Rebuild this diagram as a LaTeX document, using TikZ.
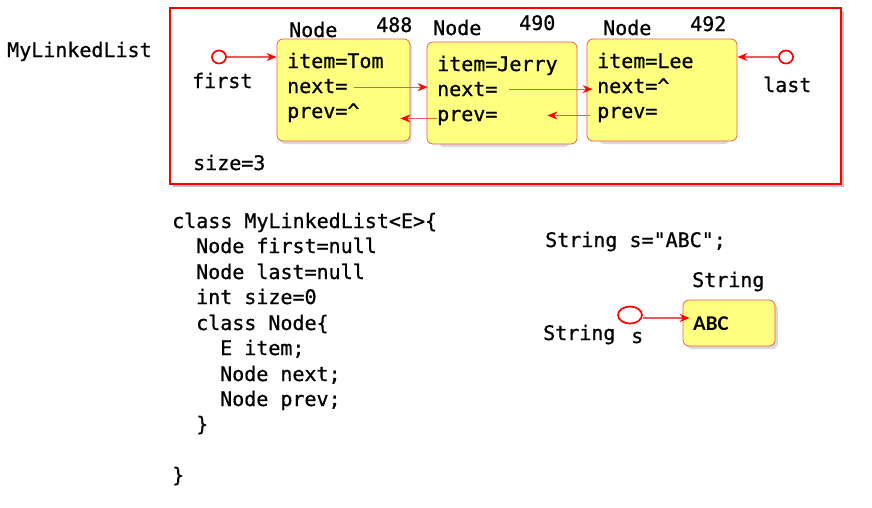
\documentclass[tikz,border=0pt]{standalone}
\usepackage{fontspec}
\newfontfamily\cons[RawFeature={embolden=0.8}]{DejaVu Sans Mono}
\newfontfamily\calib{Carlito}
\usetikzlibrary{arrows.meta,calc,shapes.geometric}
\definecolor{boxfill}{RGB}{255,255,128}
\definecolor{boxline}{RGB}{240,90,90}
\definecolor{ptrline}{RGB}{235,90,90}
\tikzset{
  mono/.style={font=\cons\fontsize{20}{24}\selectfont, inner sep=0pt, anchor=base west, text=black},
  objbox/.style={draw=boxline, line width=0.8pt, fill=boxfill, rounded corners=6pt, inner sep=0pt},
  ptr/.style={draw=ptrline, line width=1.1pt, -{Stealth[length=10pt,width=8pt,red]}},
  refcirc/.style={draw=red, line width=1.7pt, fill=white, ellipse, inner sep=0pt},
}
\begin{document}
\begin{tikzpicture}[x=1pt,y=-1pt]
\useasboundingbox (0,0) rectangle (872,507);
% outer frame
\fill[black!25] (173,11) rectangle (844,187);
\draw[red, line width=2.6pt, fill=white] (170,8) rectangle (841,184);
\node[mono] (mll) at (7,57) {MyLinkedList};
% objects
\foreach \cx/\cy in {343.5/90, 502/93, 662/90}{
  \fill[black!15, rounded corners=6pt] ($(\cx,\cy)+(-64,-49)$) rectangle ($(\cx,\cy)+(68,54)$);
}
\node[objbox, minimum width=133pt, minimum height=102pt] (n1) at (343.5,90) {};
\node[objbox, minimum width=150pt, minimum height=102pt] (n2) at (502,93) {};
\node[objbox, minimum width=150pt, minimum height=102pt] (n3) at (662,90) {};
% node labels
\node[mono] (l1) at (289,37) {Node};
\node[mono] (a1) at (376,32) {488};
\node[mono] (l2) at (433,35) {Node};
\node[mono] (a2) at (519,30) {490};
\node[mono] (l3) at (603,35) {Node};
\node[mono] (a3) at (690,31) {492};
% node contents
\node[mono] (n1item) at (287,68) {item=Tom};
\node[mono] (n1next) at (287,93) {next=};
\node[mono] (n1prev) at (287,118) {prev=\^{}};
\node[mono] (n2item) at (437,71) {item=Jerry};
\node[mono] (n2next) at (437,96) {next=};
\node[mono] (n2prev) at (437,121) {prev=};
\node[mono] (n3item) at (597,68) {item=Lee};
\node[mono] (n3next) at (597,93) {next=\^{}};
\node[mono] (n3prev) at (597,118) {prev=};
% first / last / size
\node[refcirc, minimum width=14pt, minimum height=13pt] (fc) at (219,57) {};
\node[mono] (first) at (192,88) {first};
\node[refcirc, minimum width=14pt, minimum height=13pt] (lc) at (786,57) {};
\node[mono] (last) at (763,92) {last};
\node[mono] (size) at (193,170) {size=3};
% pointers
\draw[ptr] (fc.east) -- (n1.west |- fc);
\draw[ptr] ([xshift=6pt,yshift=-1pt]n1next.east) -- ([xshift=1pt,yshift=-1pt]n2.west |- n1next.east);
\draw[ptr] ([xshift=10pt,yshift=-1pt]n2.west |- n2prev.west) -- ([xshift=-10pt,yshift=-1pt]n1.east |- n2prev.west);
\draw[ptr] ([xshift=11pt]n2next.east) -- ([xshift=6pt]n3.west |- n2next.east);
\draw[ptr] ([xshift=3pt,yshift=-1pt]n3.west |- n3prev.west) -- ([xshift=-30pt,yshift=-1pt]n2.east |- n3prev.west);
\draw[ptr] (lc.west) -- (n3.east |- lc);
% code
\node[mono] (c1) at (172,228) {class MyLinkedList<E>\{};
\node[mono] (c2) at (196,253) {Node first=null};
\node[mono] (c3) at (196,279) {Node last=null};
\node[mono] (c4) at (196,304) {int size=0};
\node[mono] (c5) at (196,330) {class Node\{};
\node[mono] (c6) at (220,355) {E item;};
\node[mono] (c7) at (220,381) {Node next;};
\node[mono] (c8) at (220,406) {Node prev;};
\node[mono] (c9) at (196,431) {\}};
\node[mono] (c10) at (172,482) {\}};
% string example
\node[mono] (sdecl) at (545,247) {String s="ABC";};
\node[mono] (stype) at (692,287) {String};
\fill[black!15, rounded corners=6pt] (686,303) rectangle (778,349);
\node[objbox, minimum width=92pt, minimum height=46pt] (abc) at (729,323) {};
\node[font=\calib\bfseries\fontsize{21}{24}\selectfont, inner sep=0pt, anchor=base west] (abct) at (693,330) {ABC};
\node[mono] (stype2) at (543,340) {String};
\node[refcirc, minimum width=24pt, minimum height=17pt] (sc) at (630,315) {};
\node[mono] (sname) at (631,343) {s};
\draw[ptr] ([yshift=-3pt]sc.east) -- ([xshift=7pt,yshift=-3pt]abc.west |- sc.east);
\end{tikzpicture}
\end{document}
